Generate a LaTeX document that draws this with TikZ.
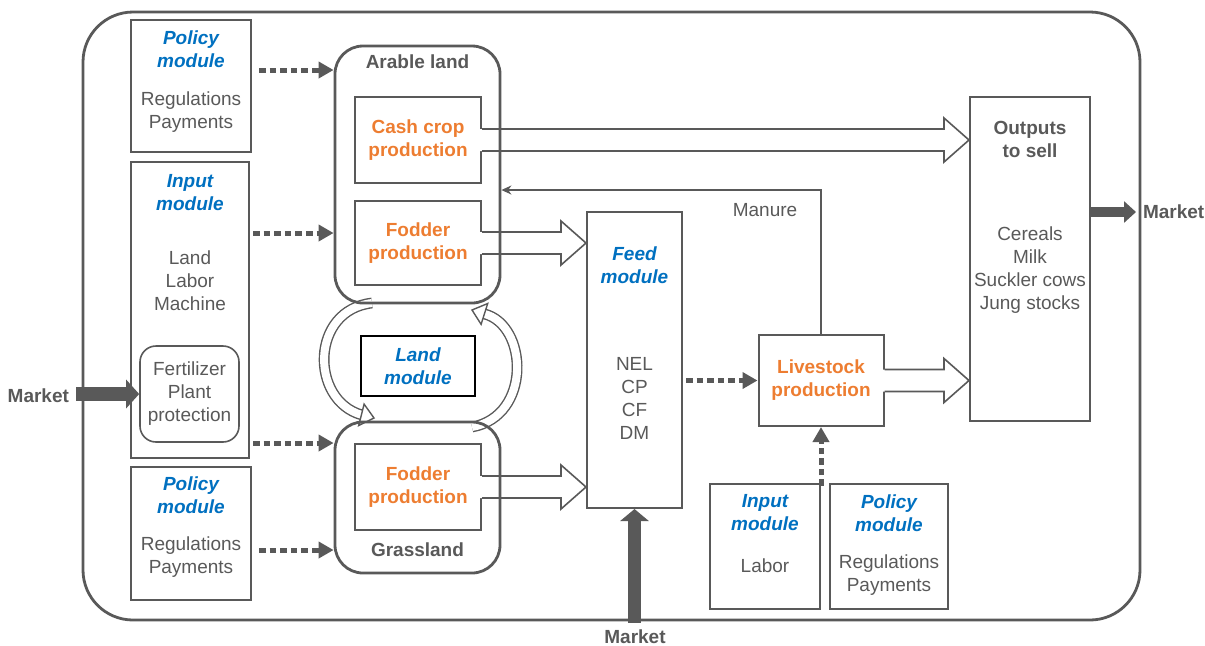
\documentclass[tikz,border=0pt]{standalone}
\usepackage{fontspec}
\setmainfont{Liberation Sans}
\usetikzlibrary{arrows.meta, calc, positioning}
\definecolor{boxgray}   {RGB}{89, 89, 89}
\definecolor{modblue}   {RGB}{0, 112, 192}
\definecolor{prodorange}{RGB}{237, 125, 49}
\newcommand{\txtsize}{\fontsize{9.5pt}{11.5pt}\selectfont}
% hollow block arrow, tail #1, tip #2 on the same height
\newcommand{\hollowarr}[2]{%
  \fill[white] ($#1+(-2,-11)$) -- ($#2+(-25,-11)$) -- ($#2+(-25,-22)$) -- #2
    -- ($#2+(-25,22)$) -- ($#2+(-25,11)$) -- ($#1+(-2,11)$) -- cycle;
  \draw[boxgray, line width=0.8pt, line join=miter] ($#1+(0,-11)$) -- ($#2+(-25,-11)$)
    -- ($#2+(-25,-22)$) -- #2 -- ($#2+(-25,22)$) -- ($#2+(-25,11)$) -- ($#1+(0,11)$);}

\begin{document}
\begin{tikzpicture}[x=0.5pt, y=-0.5pt,
    modbox/.style={draw=boxgray, line width=1pt, inner sep=0pt},
    prodbox/.style={modbox, text=prodorange, font=\txtsize\bfseries, align=center},
    landbox/.style={draw=boxgray, line width=1.4pt, rounded corners=14pt},
    modtitle/.style={text=modblue, font=\txtsize\bfseries\itshape, align=center},
    plain/.style={text=boxgray, font=\txtsize, align=center},
    heading/.style={text=boxgray, font=\txtsize\bfseries, align=center},
    landarr/.style={draw=boxgray, line width=0.7pt, double=white, double distance=4pt},
    landhead/.style={draw=boxgray, line width=0.7pt, fill=white, line join=miter},
    dotarr/.style={draw=boxgray, line width=2.5pt, dash pattern=on 3.3pt off 2pt,
      -{Triangle[length=7.5pt, width=8pt]}},
    mktarr/.style={draw=boxgray, fill=boxgray}]
\useasboundingbox (0,0) rectangle (1205,645);
\draw[boxgray, line width=1.4pt, rounded corners=25pt] (83,12) rectangle (1140,620);

% left column
\node[modbox, minimum width=60pt, minimum height=66pt] (poltop) at (191,86) {};
\node[modtitle] at (191,49) {Policy\\module};
\node[plain] at (191,112) {Regulations\\Payments};
\node[modbox, minimum width=59pt, minimum height=148pt] (input) at (190,310) {};
\node[modtitle] at (190,193) {Input\\module};
\node[plain] at (190,281) {Land\\Labor\\Machine};
\node[modbox, plain, rounded corners=8pt, line width=0.8pt, minimum width=49.5pt,
  minimum height=48pt] (fert) at (189.5,394) {Fertilizer\\Plant\\protection};
\node[modbox, minimum width=60pt, minimum height=66.5pt] (polbot) at (191,533.5) {};
\node[modtitle] at (191,495.5) {Policy\\module};
\node[plain] at (191,557.5) {Regulations\\Payments};

% land
\node[prodbox, minimum width=63pt, minimum height=43pt] (cash) at (418,140) {Cash crop\\production};
\node[prodbox, minimum width=63pt, minimum height=42pt] (fodA) at (418,243) {Fodder\\production};
\node[prodbox, minimum width=63pt, minimum height=43pt] (fodG) at (418,487) {Fodder\\production};
\node[modbox, modtitle, draw=black, line width=1.3pt, minimum width=57pt,
  minimum height=30pt] (land) at (418,366) {Land\\module};

% feed, livestock, outputs
\node[modbox, minimum width=47.5pt, minimum height=148pt] (feed) at (634.5,360) {};
\node[modtitle] at (634.5,265) {Feed\\module};
\node[plain] at (634.5,398.5) {NEL\\CP\\CF\\DM};
\node[prodbox, minimum width=62.5pt, minimum height=45.5pt] (live) at (821,380.5) {Livestock\\production};
\node[modbox, minimum width=60pt, minimum height=162pt] (out) at (1030,259) {};
\node[heading] at (1030,139.5) {Outputs\\to sell};
\node[plain] at (1030,270) {Cereals\\Milk\\Suckler cows\\Jung stocks};
\node[modbox, minimum width=55pt, minimum height=62.5pt] (inpR) at (765,546.5) {};
\node[modtitle] at (765,512.5) {Input\\module};
\node[plain] at (765,566) {Labor};
\node[modbox, minimum width=59pt, minimum height=62.5pt] (polR) at (889,546.5) {};
\node[modtitle] at (889,513.5) {Policy\\module};
\node[plain] at (889,575.5) {Regulations\\Payments};

% flows
\hollowarr{(cash.east)}{(cash.east -| out.west)}
\hollowarr{(fodA.east)}{(fodA.east -| feed.west)}
\hollowarr{(fodG.east)}{(fodG.east -| feed.west)}
\hollowarr{(live.east)}{(live.east -| out.west)}
% land exchange arcs
\draw[landarr] (372,303) .. controls (310,310) and (310,400) .. (361.4,414.8);
\draw[landhead] (358.7,425.5) -- (374,418) -- (364.1,404.1) -- cycle;
\draw[landarr] (472,427) .. controls (532,416) and (528,325) .. (484.4,313.9);
\draw[landhead] (487.7,303.5) -- (472,310) -- (481.1,324.3) -- cycle;

\node[landbox, minimum width=82.5pt, minimum height=128.5pt] (arable) at (417.5,174.5) {};
\node[heading] at (417.5,62) {Arable land};
\node[landbox, minimum width=82.5pt, minimum height=75.5pt] (grass) at (417.5,497.5) {};
\node[heading] at (417.5,550) {Grassland};

\coordinate (mn) at (live.north |- 0,190);
\draw[boxgray, line width=1pt, -{Stealth[length=5pt, width=4.5pt]}] (live.north) -- (mn) -- (mn -| arable.east);
\node[plain] at (765,210) {Manure};

\draw[dotarr] ($(poltop.east |- 0,70)+(7,0)$) -- (arable.west |- 0,70);
\draw[dotarr] ($(input.east |- 0,233)+(3,0)$) -- (arable.west |- 0,233);
\draw[dotarr] ($(input.east |- 0,443)+(3,0)$) -- (grass.west |- 0,443);
\draw[dotarr] ($(polbot.east |- 0,550)+(7,0)$) -- (grass.west |- 0,550);
\draw[dotarr] ($(feed.east |- live.west)+(3,0)$) -- (live.west);
\draw[dotarr] (live.south |- 0,486) -- (live.south);

% markets
\node[heading, anchor=east] (mkL) at (76,396) {Market};
\draw[mktarr, line width=7pt, -{Triangle[length=6.5pt, width=14pt]}] (fert.west -| mkL.east) -- (fert.west);
\node[heading, anchor=west] (mkR) at (1136,212) {Market};
\draw[mktarr, line width=5pt, -{Triangle[length=6pt, width=10.5pt]}] (out.east |- mkR.west) -- (mkR.west);
\node[heading] (mkB) at (635,637) {Market};
\draw[mktarr, line width=6.5pt, -{Triangle[length=6pt, width=14pt]}] (feed.south |- mkB.north) -- (feed.south);
\end{tikzpicture}
\end{document}
